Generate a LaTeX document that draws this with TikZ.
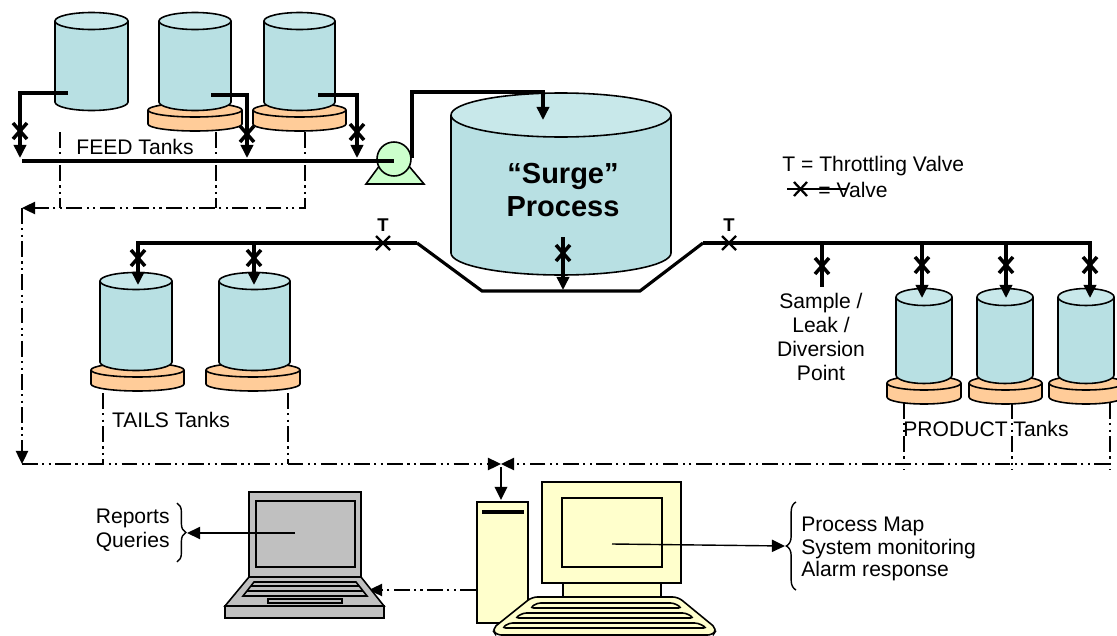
\documentclass[tikz,border=0pt]{standalone}
\usepackage{fontspec}
\setmainfont{Liberation Sans}
\usetikzlibrary{positioning, calc, arrows.meta, decorations.pathreplacing}

\definecolor{tankblue}{HTML}{B8E0E3}
\definecolor{tanktop}{HTML}{C8E8EA}
\definecolor{baseorange}{HTML}{FFCC99}
\definecolor{pumpgreen}{HTML}{CCFFCC}
\definecolor{pcyellow}{HTML}{FFFFCC}
\definecolor{lapgray}{HTML}{C0C0C0}

\tikzset{
  pipe/.style={line width=1.8pt},
  pipearrow/.style={pipe, -{Triangle[length=7.5pt, width=7pt]}},
  signal/.style={line width=1.1pt, dash pattern=on 9pt off 2.5pt on 1.2pt off 2.5pt on 1.2pt off 2.5pt},
  signalarrow/.style={signal, -{Triangle[length=7.5pt, width=7pt]}},
  thinarrow/.style={line width=0.8pt, -{Triangle[length=7.5pt, width=7pt]}},
  vessel/.style={draw, line width=0.9pt, fill=tankblue},
  plinth/.style={draw, line width=0.9pt, fill=baseorange},
  laptop/.style={draw, line width=0.9pt, fill=lapgray},
  desk/.style={draw, line width=0.9pt, fill=pcyellow},
  valvex/.style={line width=2pt},
  throttle/.style={line width=1.3pt},
  txt/.style={font=\fontsize{12}{13.8}\selectfont, align=center, inner sep=0pt},
  tlabel/.style={font=\bfseries\fontsize{10.5}{12}\selectfont, inner sep=0pt},
}

\begin{document}
\begin{tikzpicture}[x=0.02cm, y=0.02cm]
    \fill[white] (0,0) rectangle (1117,-636);
    \useasboundingbox (0,0) rectangle (1117,-636);

    % tank bases: center x / top y / half width
    \foreach \x/\y/\w in {195/110/47, 299.5/110/46.5, 137.5/370/46.5, 253/370/47, 924/383/37, 1005.5/383/36.5, 1086/383/37} {
        \path[plinth] (\x-\w,-\y) -- (\x-\w,-\y-14) arc[start angle=180, end angle=360, x radius=\w, y radius=7] -- (\x+\w,-\y);
        \path[plinth] (\x,-\y) ellipse [x radius=\w, y radius=7];
    }
    % tanks: center x / top y / bottom y / half width
    \foreach \x/\yt/\yb/\w in {91.5/21/102/36.5, 195/21/102/36, 299.5/21/102/35.5, 136/281/362/36, 254.5/281/362/35.5, 924/297/375/28, 1005/297/375/28, 1086/297/375/28} {
        \path[vessel] (\x-\w,-\yt) -- (\x-\w,-\yb) arc[start angle=180, end angle=360, x radius=\w, y radius=8.5] -- (\x+\w,-\yt);
        \path[vessel, fill=tanktop] (\x,-\yt) ellipse [x radius=\w, y radius=8.5];
    }
    % surge vessel
    \path[vessel] (451,-115) -- (451,-253) arc[start angle=180, end angle=360, x radius=110, y radius=22] -- (671,-115);
    \path[vessel, fill=tanktop] (561,-115) ellipse [x radius=110, y radius=22];
    \node[txt, font=\bfseries\fontsize{16.5}{19.3}\selectfont] (surge) at (563,-190) {“Surge”\\Process};

    % pump
    \coordinate (pump) at (394,-159);
    \filldraw[fill=pumpgreen, line width=0.9pt] (366,-184) -- (424,-184) -- (408,-165) -- (380,-165) -- cycle;
    \filldraw[fill=pumpgreen, line width=0.9pt] (pump) circle[radius=17];

    % feed pipes
    \foreach \ox/\oy/\ix [count=\i] in {68/93/20, 211/95/247, 318/95/357} {
        \coordinate (fo\i) at (\ox,-\oy);
        \coordinate (fi\i) at (\ix,-158);
        \draw[pipearrow] (fo\i) -| (fi\i);
    }
    \coordinate (hd) at (22,-161);
    \draw[pipe] (hd) -- (hd -| pump);
    \coordinate (pumpout) at (412,-158);
    \coordinate (riser) at (412,-92);
    \coordinate (surgein) at (543,-120);
    \draw[pipearrow] (pumpout) -- (riser) -| (surgein);

    % process line
    \coordinate (surgeout) at (563,-237);
    \coordinate (sump) at (563,-290);
    \draw[pipearrow] (surgeout) -- (sump);
    \coordinate (kl) at (417,-243);
    \coordinate (bl) at (482,-291);
    \coordinate (br) at (640,-291);
    \coordinate (kr) at (703,-243);
    \draw[pipe] (kl) -- (bl) -- (br) -- (kr);
    \coordinate (t1) at (138,-285);
    \coordinate (t2) at (254,-285);
    \draw[pipearrow] (kl) -| (t1);
    \draw[pipearrow] (t2 |- kl) -- (t2);
    \foreach \x [count=\i] in {922, 1006, 1090}
        \coordinate (p\i) at (\x,-298);
    \draw[pipearrow] (kr) -| (p3);
    \foreach \i in {1, 2} \draw[pipearrow] (p\i |- kr) -- (p\i);
    \coordinate (smp) at (822,-287);
    \draw[pipe] (smp |- kr) -- (smp);

    % valves
    \foreach \x/\y [count=\i] in {20/131, 247/134, 357/132, 138/258, 254/258, 563/253, 822/266, 922/265, 1006/265, 1090/265} {
        \coordinate (v\i) at (\x,-\y);
        \draw[valvex] ($(v\i)+(-7,8)$) -- ($(v\i)+(7,-8)$) ($(v\i)+(-7,-8)$) -- ($(v\i)+(7,8)$);
    }
    % throttling valves
    \foreach \x [count=\i] in {383, 729} {
        \coordinate (tv\i) at (\x,-243);
        \draw[throttle] ($(tv\i)+(-7,7)$) -- ($(tv\i)+(7,-7)$) ($(tv\i)+(-7,-7)$) -- ($(tv\i)+(7,7)$);
        \node[tlabel] (tl\i) at (\x,-225) {T};
    }

    % legend
    \node[txt, anchor=west] (leg1) at (782,-166) {T = Throttling Valve};
    \node[txt, anchor=west] (leg2) at (818,-190) {= Valve};
    \coordinate (lg) at (787,-189);
    \draw[line width=1pt] (lg) -- ++(60,0);
    \draw[throttle] (794,-182) -- (807,-196) (794,-196) -- (807,-182);

    % labels
    \node[txt] (feedlbl) at (135,-147) {FEED Tanks};
    \node[txt] (tailslbl) at (171,-420) {TAILS Tanks};
    \node[txt] (prodlbl) at (986,-429) {PRODUCT Tanks};
    \node[txt] (samplelbl) at (821,-337) {Sample /\\Leak /\\Diversion\\Point};

    % signal lines
    \coordinate (sh) at (22,-208);
    \coordinate (sc) at (22,-464);
    \coordinate (hub) at (501,-464);
    \coordinate (se) at (1110,-464);
    \foreach \x [count=\i] in {60, 216, 305} \coordinate (s\i) at (\x,-132);
    \foreach \i in {1, 2} \draw[signal] (s\i) -- (s\i |- sh);
    \draw[signalarrow] (s3) |- (sh);
    \draw[signalarrow] (sh) -- (sc);
    \draw[signalarrow] (sc) -- (hub);
    \draw[signalarrow] (se) -- (hub);
    \foreach \x [count=\i] in {103, 288} {
        \coordinate (ta\i) at (\x,-393);
        \draw[signal] (ta\i) -- (ta\i |- sc);
    }
    \foreach \x [count=\i] in {904, 1012, 1110} {
        \coordinate (pr\i) at (\x,-403);
        \draw[signal] (pr\i) -- ++(0,-67);
    }
    \coordinate (towertop) at (501,-500);
    \draw[thinarrow, line width=1.4pt] ($(hub)+(0,-3)$) -- (towertop);

    % desktop computer
    \path[desk] (477,-502) rectangle (528,-623);
    \draw[line width=2.2pt] (482,-512) -- (524,-512);
    \path[desk] (542,-482) rectangle (681,-583);
    \path[desk] (562,-498) rectangle (662,-567);
    \path[desk] (563,-583) rectangle (661,-597);
    \path[desk, rounded corners=3] (532,-597) -- (678,-597) -- (717,-629) -- (713,-635) -- (496,-635) -- (492,-629) -- cycle;
    \foreach \yt/\lt/\rt/\lb/\rb in {603/537/674/530/682, 613/523/686/515/694, 623/509/698/502/707}
        \path[desk, rounded corners=2] (\lt,-\yt) -- (\rt,-\yt) -- (\rb,-\yt-5) -- (\lb,-\yt-5) -- cycle;
    \coordinate (deskscr) at (612,-544);
    \coordinate (mapbrace) at (785,-546);
    \draw[thinarrow] (deskscr) -- (mapbrace);
    \draw[line width=0.8pt, decorate, decoration={brace, amplitude=5.5pt}] (796,-590) -- (796,-502);
    \node[txt, anchor=west, align=left, font=\fontsize{12}{13}\selectfont] (maplist) at (801,-549) {Process Map\\System monitoring\\Alarm response};

    % laptop
    \coordinate (towerl) at (476,-590);
    \coordinate (lapr) at (369,-590);
    \draw[signalarrow] (towerl) -- (lapr);
    \path[laptop] (249,-492) rectangle (361,-577);
    \path[laptop] (256,-501) rectangle (355,-567);
    \path[laptop] (249,-577) -- (361,-577) -- (384,-606) -- (225,-606) -- cycle;
    \path[laptop] (225,-606) rectangle (384,-618);
    \path[laptop] (254,-582) -- (356,-582) -- (367,-596) -- (243,-596) -- cycle;
    \draw[line width=0.9pt] (251,-586) -- (359,-586) (247,-591) -- (363,-591);
    \path[laptop] (268,-599) rectangle (342,-603);
    \coordinate (lapscr) at (295,-533);
    \coordinate (lapbrace) at (187,-533);
    \draw[thinarrow] (lapscr) -- (lapbrace);
    \draw[line width=0.8pt, decorate, decoration={brace, amplitude=5pt}] (177,-503) -- (177,-562);
    \node[txt, anchor=east, align=right] (reports) at (170,-530) {Reports\\Queries};
\end{tikzpicture}
\end{document}
